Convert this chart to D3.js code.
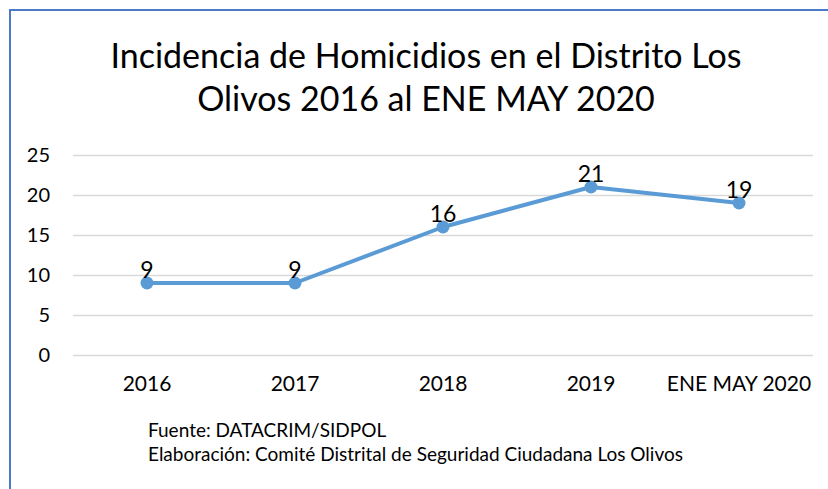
<!DOCTYPE html>
<html>
<head>
<meta charset="utf-8">
<script src="https://cdn.jsdelivr.net/npm/d3@7"></script>
<style>
  body { margin: 0; background: #fff; }
  text { font-family: Lato, "Open Sans", sans-serif; fill: #000; }
</style>
</head>
<body>
<div id="chart"></div>
<script>
const width = 828;
const height = 489;

// Données
const categories = ["2016", "2017", "2018", "2019", "ENE MAY 2020"];
const homicidios = [9, 9, 16, 21, 19];
const yTicks = [0, 5, 10, 15, 20, 25];
const titleLines = ["Incidencia de Homicidios en el Distrito Los", "Olivos 2016 al ENE MAY 2020"];
const notes = ["Fuente: DATACRIM/SIDPOL", "Elaboración: Comité Distrital de Seguridad Ciudadana Los Olivos"];

const margin = { left: 73, right: 15, top: 155, bottom: 134 };

const svg = d3.select("#chart")
  .append("svg")
  .attr("width", width)
  .attr("height", height);

// Cadre bleu (haut et gauche)
svg.append("path")
  .attr("d", `M10,${height} L10,10 L${width},10`)
  .attr("fill", "none")
  .attr("stroke", "#4a7ac8")
  .attr("stroke-width", 2);

const x = d3.scaleBand()
  .domain(categories)
  .range([margin.left, width - margin.right]);

const y = d3.scaleLinear()
  .domain([0, 25])
  .range([height - margin.bottom, margin.top]);

// Titre
svg.append("g")
  .selectAll("text")
  .data(titleLines)
  .enter()
  .append("text")
  .attr("x", 426)
  .attr("y", (d, i) => 68 + i * 43)
  .attr("text-anchor", "middle")
  .attr("font-size", "34px")
  .text(d => d);

// Grille + axe Y
const yAxis = svg.append("g")
  .attr("transform", `translate(${margin.left},0)`)
  .call(d3.axisLeft(y).tickValues(yTicks).tickSize(-(width - margin.left - margin.right)).tickPadding(23));
yAxis.select(".domain").remove();
yAxis.selectAll(".tick line").attr("stroke", "#d9d9d9").attr("stroke-width", 1.5);
yAxis.selectAll(".tick text").attr("font-size", "20px").attr("font-family", "Lato, sans-serif");

// Axe X
const xAxis = svg.append("g")
  .attr("transform", `translate(0,${height - margin.bottom})`)
  .call(d3.axisBottom(x).tickSize(0).tickPadding(21));
xAxis.select(".domain").remove();
xAxis.selectAll(".tick text").attr("font-size", "21px").attr("font-family", "Lato, sans-serif");

// Ligne
const line = d3.line()
  .x((d, i) => x(categories[i]) + x.bandwidth() / 2)
  .y(d => y(d));

svg.append("path")
  .datum(homicidios)
  .attr("d", line)
  .attr("fill", "none")
  .attr("stroke", "#5b9bd5")
  .attr("stroke-width", 4)
  .attr("stroke-linejoin", "round");

svg.append("g")
  .selectAll("circle")
  .data(homicidios)
  .enter()
  .append("circle")
  .attr("cx", (d, i) => x(categories[i]) + x.bandwidth() / 2)
  .attr("cy", d => y(d))
  .attr("r", 6.5)
  .attr("fill", "#5b9bd5");

// Étiquettes de valeurs
svg.append("g")
  .selectAll("text")
  .data(homicidios)
  .enter()
  .append("text")
  .attr("x", (d, i) => x(categories[i]) + x.bandwidth() / 2)
  .attr("y", d => y(d) - 5)
  .attr("text-anchor", "middle")
  .attr("font-size", "23px")
  .text(d => d);

// Notes
svg.append("g")
  .selectAll("text")
  .data(notes)
  .enter()
  .append("text")
  .attr("x", 148)
  .attr("y", (d, i) => 437 + i * 24)
  .attr("font-size", "19px")
  .text(d => d);
</script>
</body>
</html>
